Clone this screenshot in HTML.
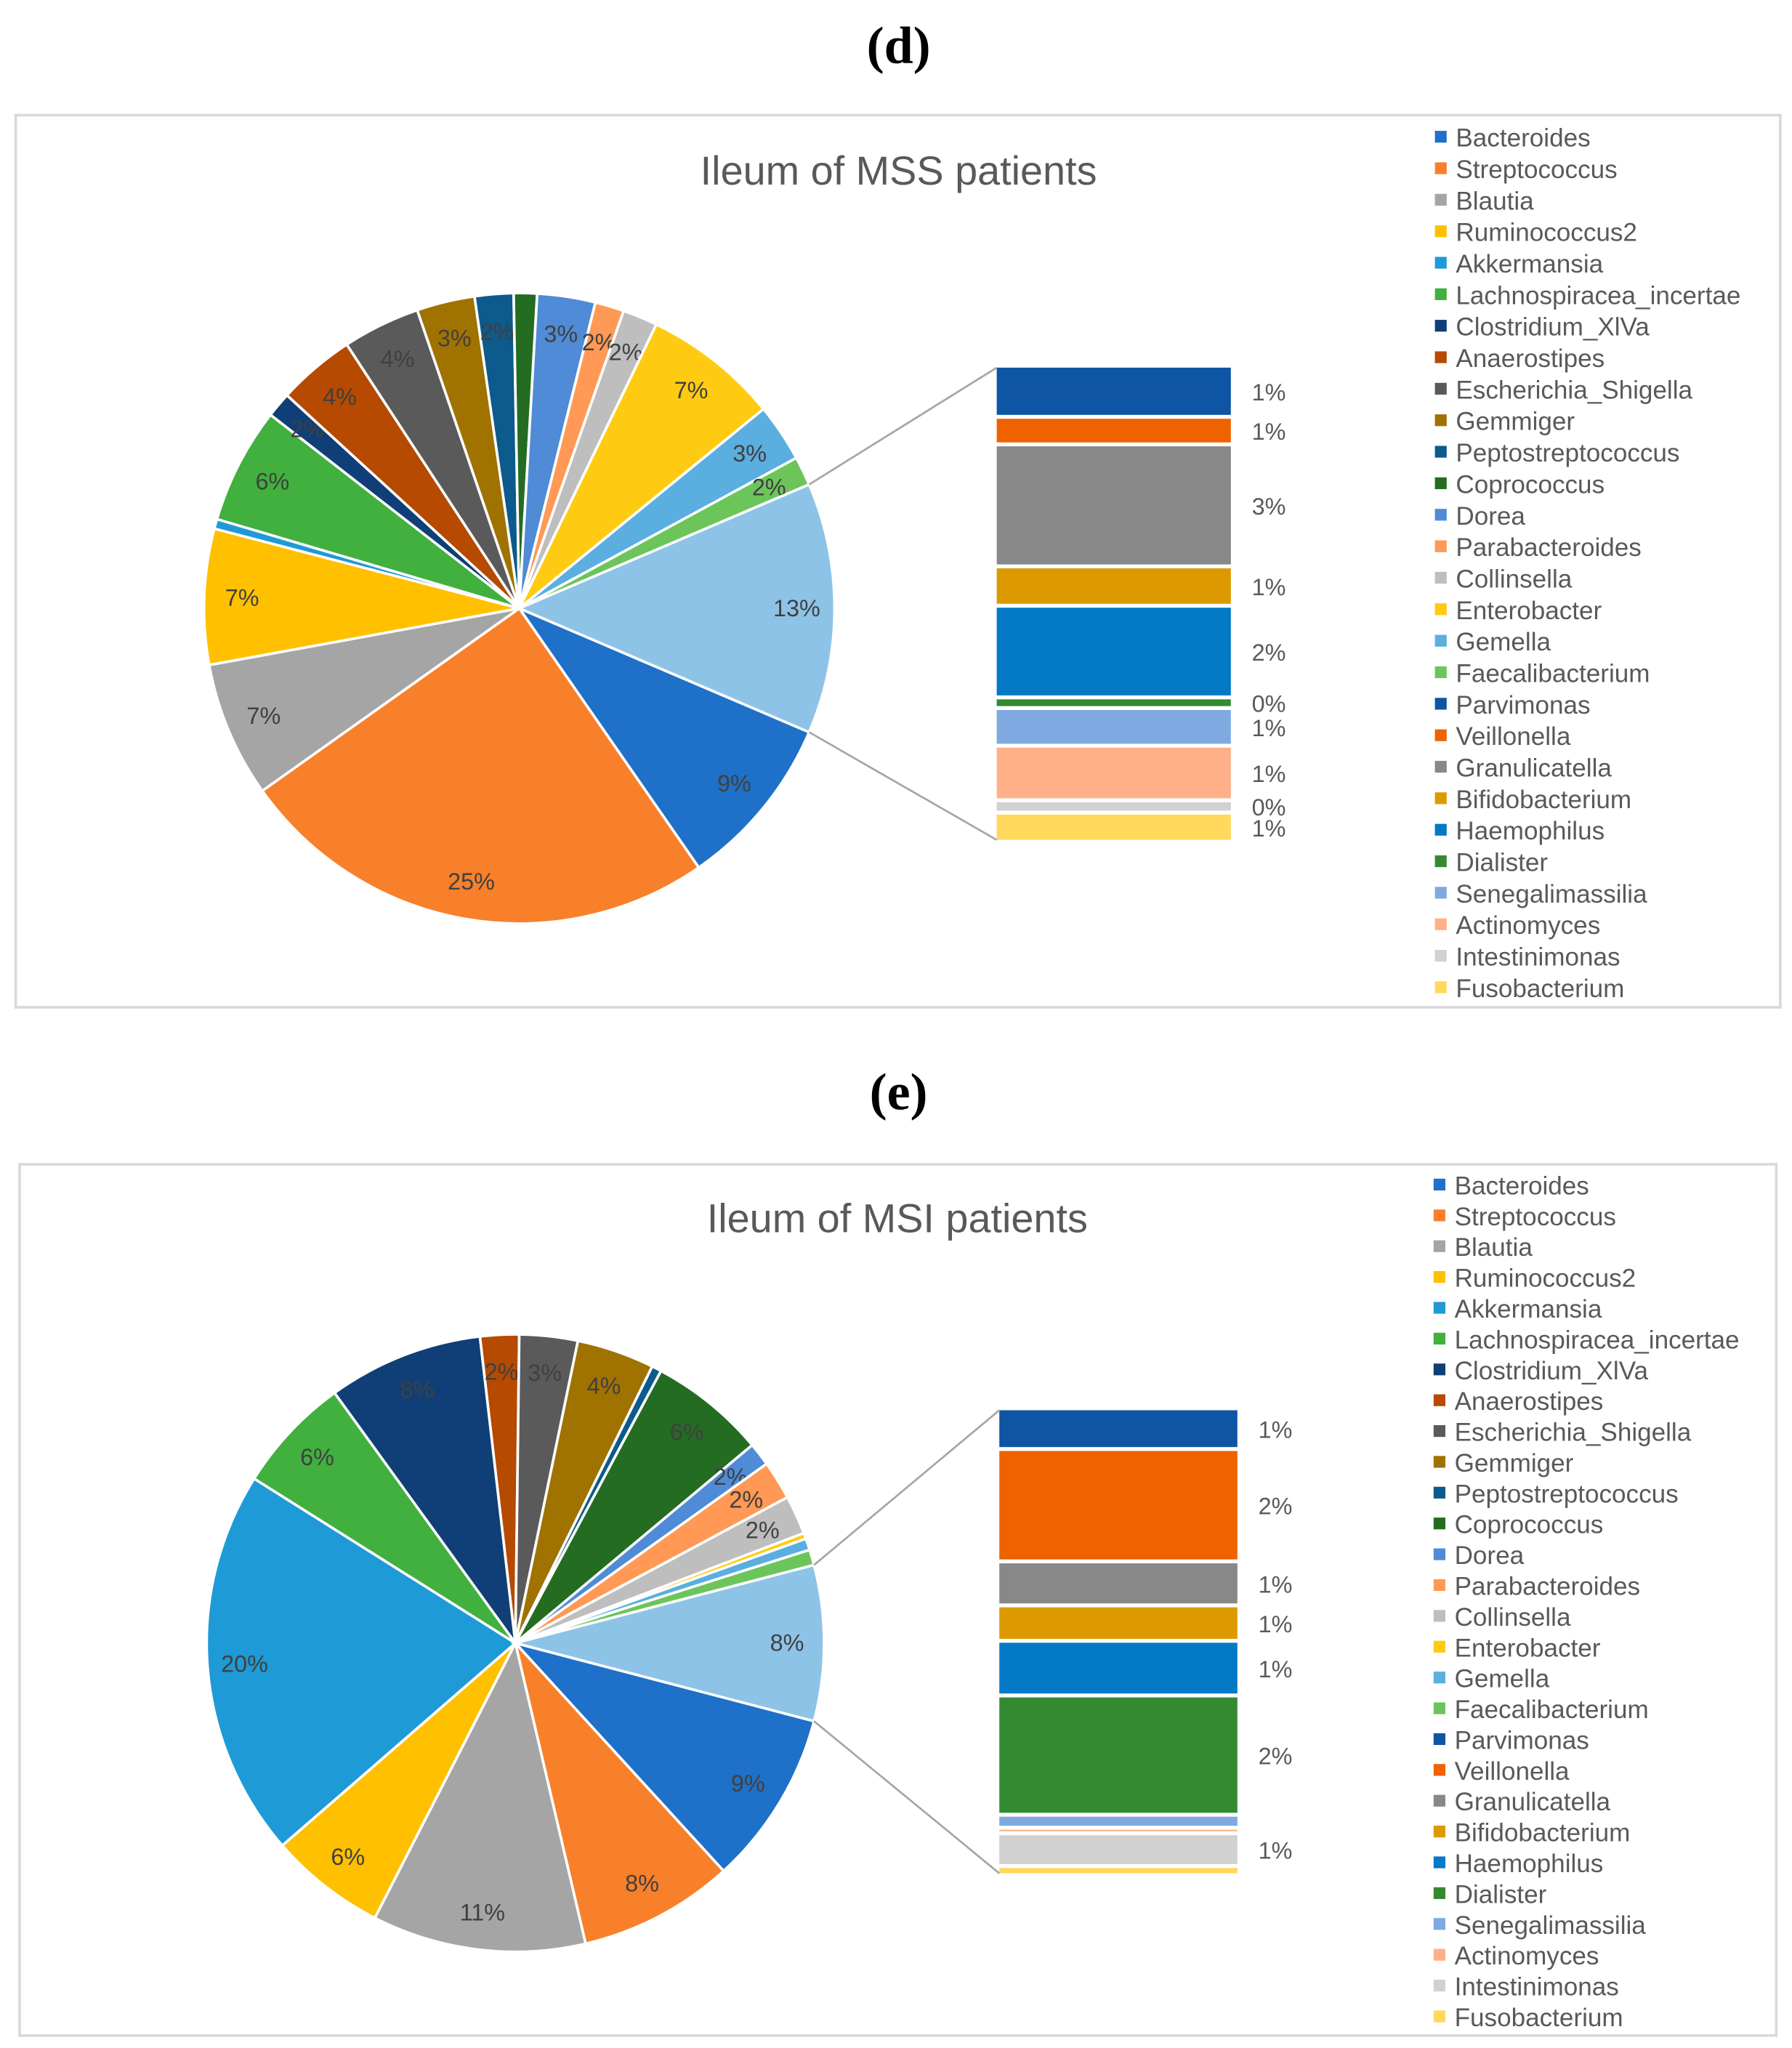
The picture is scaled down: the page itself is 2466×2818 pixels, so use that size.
<!DOCTYPE html>
<html><head><meta charset="utf-8"><style>
html,body{margin:0;padding:0;background:#fff;}
svg{display:block;}
text{font-family:"Liberation Sans",sans-serif;}
</style></head><body>
<svg id="root" width="2466" height="2818" viewBox="0 0 1370 1565.5" xmlns="http://www.w3.org/2000/svg">
<text x="687" y="48" text-anchor="middle" font-size="40" font-weight="bold" style="font-family:'Liberation Serif',serif" fill="#000">(d)</text>
<text x="687" y="848" text-anchor="middle" font-size="40" font-weight="bold" style="font-family:'Liberation Serif',serif" fill="#000">(e)</text>
<rect x="12" y="88" width="1349" height="682" fill="#fff" stroke="#d9d9d9" stroke-width="2"/>
<rect x="15" y="890" width="1343" height="666" fill="#fff" stroke="#d9d9d9" stroke-width="2"/>
<text x="687" y="141" text-anchor="middle" font-size="31" fill="#595959">Ileum of MSS patients</text>
<text x="686" y="942" text-anchor="middle" font-size="31" fill="#595959">Ileum of MSI patients</text>
</svg>
<script>
const mainNames=["Bacteroides","Streptococcus","Blautia","Ruminococcus2","Akkermansia","Lachnospiracea_incertae","Clostridium_XlVa","Anaerostipes","Escherichia_Shigella","Gemmiger","Peptostreptococcus","Coprococcus","Dorea","Parabacteroides","Collinsella","Enterobacter","Gemella","Faecalibacterium"];
const otherNames=["Parvimonas","Veillonella","Granulicatella","Bifidobacterium","Haemophilus","Dialister","Senegalimassilia","Actinomyces","Intestinimonas","Fusobacterium"];
const mainColors=["#1F70C8","#F8802A","#A5A5A5","#FFC000","#1E9AD6","#41B03E","#0F3F76","#B54A00","#5A5A5A","#A07200","#0D5A8C","#246C22","#4F8BD6","#FF9955","#BEBEBE","#FFCB12","#5AAEE0","#6CC55B"];
const otherColors=["#0E56A4","#EE6200","#888888","#DD9A00","#0479C5","#348A30","#7FA9E1","#FFB088","#D1D1D1","#FFD85C"];
const otherSliceColor="#8EC3E8";
// MSS (d)
const mssMain=[9,25,7,7,0.5,6,1.3,4,4,3,2,1.2,3,1.5,1.8,7,3,1.5];
const mssMainLabels=["9%","25%","7%","7%","","6%","2%","4%","4%","3%","2%","","3%","2%","2%","7%","3%","2%"];
const mssOther=[1.4,0.7,3.5,1.05,2.6,0.2,1.0,1.5,0.25,0.75];
const mssOtherLabels=["1%","1%","3%","1%","2%","0%","1%","1%","0%","1%"];
const mssOtherLabel="13%";
// MSI (e)
const msiMain=[9,8,11,6,20,6,8,2,3,4,0.5,6,1.2,2,2,0.3,0.6,0.8];
const msiMainLabels=["9%","8%","11%","6%","20%","6%","8%","2%","3%","4%","","6%","2%","2%","2%","","",""];
const msiOther=[0.69,2.03,0.75,0.59,0.95,2.16,0.17,0.03,0.54,0.1];
const msiOtherLabels=["1%","2%","1%","1%","1%","2%","","","1%",""];
const msiOtherLabel="8%";

const NS="http://www.w3.org/2000/svg";
const root=document.getElementById('root');
function mk(tag,attrs){const e=document.createElementNS(NS,tag);for(const k in attrs)e.setAttribute(k,attrs[k]);root.appendChild(e);return e;}
function pt(cx,cy,r,a){const t=a*Math.PI/180;return [cx+r*Math.sin(t),cy-r*Math.cos(t)];}

function drawChart(id,cx,cy,r,main,mainLabels,other,otherLabels,otherLabel,bar,legend){
  const otherSum=other.reduce((a,b)=>a+b,0);
  const total=main.reduce((a,b)=>a+b,0)+otherSum;
  const oSpan=otherSum/total*360;
  let a=90+oSpan/2;
  const slices=main.map((v,i)=>({v,c:mainColors[i],l:mainLabels[i],n:mainNames[i]}));
  slices.push({v:otherSum,c:otherSliceColor,l:otherLabel,n:"other"});
  let oStart=0,oEnd=0;
  slices.forEach((s,i)=>{
    const span=s.v/total*360;const a0=a,a1=a+span;
    if(s.n==="other"){oStart=a0;oEnd=a1;}
    const p0=pt(cx,cy,r,a0),p1=pt(cx,cy,r,a1);
    const p=mk('path',{d:`M${cx},${cy}L${p0[0]},${p0[1]}A${r},${r} 0 ${span>180?1:0} 1 ${p1[0]},${p1[1]}Z`,fill:s.c,stroke:'#fff','stroke-width':2});
    
    
    if(s.l){const lp=pt(cx,cy,r*0.88,(a0+a1)/2);
      const t=mk('text',{x:lp[0],y:lp[1]+6,'text-anchor':'middle','font-size':18,fill:'#404040'});t.textContent=s.l;
      
      }
    a=a1;
  });
  const gap=3;const avail=(bar.y1-bar.y0)-gap*(other.length-1);
  let y=bar.y0;
  other.forEach((v,i)=>{
    const h=v/otherSum*avail;
    const rc=mk('rect',{x:bar.x,y:y,width:bar.w,height:Math.max(h,0.5),fill:otherColors[i]});
    
    
    if(otherLabels[i]){const t=mk('text',{x:bar.x+bar.w+16,y:y+h/2+7,'font-size':18,fill:'#595959'});t.textContent=otherLabels[i];
      
      }
    y+=h+gap;
  });
  const q0=pt(cx,cy,r,oStart),q1=pt(cx,cy,r,oEnd);
  const l1=mk('line',{x1:q0[0],y1:q0[1],x2:bar.x,y2:bar.y0,stroke:'#a6a6a6','stroke-width':1.5});
  
  
  const l2=mk('line',{x1:q1[0],y1:q1[1],x2:bar.x,y2:bar.y1,stroke:'#a6a6a6','stroke-width':1.5});
  
  
  const names=mainNames.concat(otherNames),cols=mainColors.concat(otherColors);
  names.forEach((n,i)=>{
    const yy=legend.y+i*legend.step;
    const sq=mk('rect',{x:legend.x,y:yy-5,width:9,height:9,fill:cols[i]});
    
    
    const t=mk('text',{x:legend.x+16,y:yy+7,'font-size':19.5,fill:'#595959'});t.textContent=n;
    
    
  });
}
drawChart('mss',397,465,241,mssMain,mssMainLabels,mssOther,mssOtherLabels,mssOtherLabel,{x:762,w:179,y0:281,y1:642},{x:1097,y:105,step:24.08});
drawChart('msi',394,1256,236,msiMain,msiMainLabels,msiOther,msiOtherLabels,msiOtherLabel,{x:764,w:182,y0:1078,y1:1432},{x:1096,y:906,step:23.55});
</script>
</body></html>
